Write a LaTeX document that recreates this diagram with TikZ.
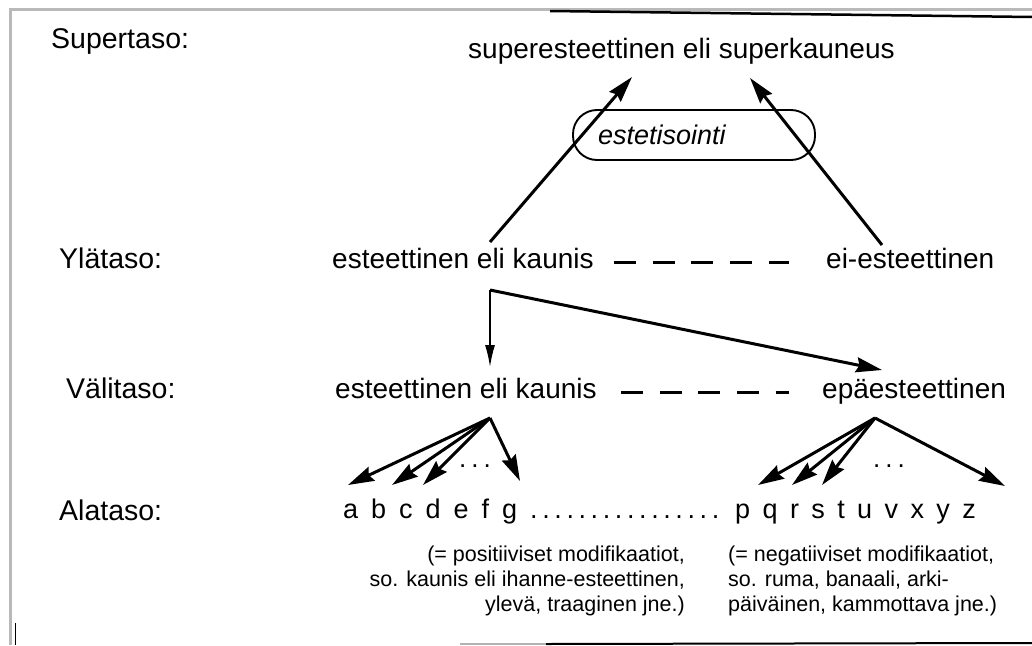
\documentclass[tikz,border=0pt]{standalone}
\usepackage{fontspec}
\setmainfont{Liberation Sans}
\usetikzlibrary{arrows.meta}
\begin{document}
\begin{tikzpicture}[x=1pt,y=-1pt,
  lbl/.style={anchor=base west, inner sep=0pt, font=\fontsize{28.5}{34}\selectfont},
  txt/.style={anchor=base west, inner sep=0pt, font=\fontsize{28}{34}\selectfont},
  ltr/.style={anchor=base west, inner sep=0pt, font=\fontsize{27}{32}\selectfont},
  paren/.style={inner sep=0pt, font=\fontsize{21.5}{25}\selectfont},
  dots/.style={inner sep=0pt, font=\fontsize{26}{30}\selectfont},
  bigarrow/.style={line width=3pt, -{Stealth[length=26pt,width=15pt,inset=3pt]}},
  thinarrow/.style={line width=1.5pt, -{Latex[length=22pt,width=10pt]}},
  dashline/.style={line width=3pt, dash pattern=on 22pt off 16.7pt},
  estbox/.style={draw, line width=1.9pt, rounded corners=24pt, minimum height=50pt,
    text width=192pt, inner xsep=25pt, align=left, font=\fontsize{27}{32}\selectfont\itshape}
]
\useasboundingbox (0,0) rectangle (1032,645);
\fill[white] (0,0) rectangle (1032,645);
% frame remnants
\draw[gray!55, line width=3pt] (10,645) -- (10,9) -- (1032,9);
\draw[line width=2.5pt] (550,11) -- (1032,17);
\draw[gray!60, line width=1.5pt] (460,644) -- (546,644);
\draw[line width=2pt] (546,644) -- (1032,643);
\draw[line width=1pt] (15,623) -- (15,645);

% level labels
\node[lbl] (st) at (51,48) {Supertaso:};
\node[lbl] (yl) at (59,268) {Ylätaso:};
\node[lbl] (vl) at (66,398) {Välitaso:};
\node[lbl] (al) at (59,520) {Alataso:};

% main texts
\node[txt] (sup) at (468,58) {superesteettinen eli superkauneus};
\node[estbox] (est) at (694,135) {estetisointi};
\node[txt] (yk) at (332,268) {esteettinen eli kaunis};
\node[txt] (ye) at (826,268) {ei-esteettinen};
\node[txt] (vk) at (335,398) {esteettinen eli kaunis};
\node[txt] (ve) at (822,398) {epäesteettinen};

% dashed links
\draw[dashline] ([shift={(20,-6)}]yk.base east) -- ([shift={(-37,-6)}]ye.base west);
\draw[dashline] ([shift={(24,-6)}]vk.base east) -- ([shift={(-33,-6)}]ve.base west);

% lowest level letters
\node[ltr] (ag) at (343,518) {a\hspace{13pt}b\hspace{13pt}c\hspace{13pt}d\hspace{13pt}e\hspace{13pt}f\hspace{13pt}g};
\node[ltr] (dl) at (530,518) {\foreach \i in {1,...,15}{.\hspace{4.6pt}}.};
\node[ltr] (pz) at (735,518) {p\hspace{12.4pt}q\hspace{12.4pt}r\hspace{12.4pt}s\hspace{12.4pt}t\hspace{12.4pt}u\hspace{12.4pt}v\hspace{12.4pt}x\hspace{12.4pt}y\hspace{12.4pt}z};
\node[dots] (d1) at (475,466) {.\hspace{5pt}.\hspace{5pt}.};
\node[dots] (d2) at (889,466) {.\hspace{5pt}.\hspace{5pt}.};

\node[paren, anchor=north east, align=right] (pos) at (685,546)
  {(= positiiviset modifikaatiot,\\so. kaunis eli ihanne-esteettinen,\\ylevä, traaginen jne.)};
\node[paren, anchor=north west, align=left] (neg) at (728,546)
  {(= negatiiviset modifikaatiot,\\so. ruma, banaali, arki-\\päiväinen, kammottava jne.)};

% connector points
\coordinate (ykA) at (490,242);
\coordinate (yeA) at (882,245);
\coordinate (supL) at (632,77);
\coordinate (supR) at (750,78);
\coordinate (ykB) at (490,290);
\coordinate (vkT) at (490,367);
\coordinate (veT) at (882,370);
\coordinate (vkB) at (490,418);
\coordinate (veB) at (875,418);
\coordinate (ta) at (348,485);
\coordinate (tb) at (392,485);
\coordinate (tc) at (423,485);
\coordinate (tg) at (520,481);
\coordinate (tp) at (758,485);
\coordinate (tq) at (792,485);
\coordinate (tr) at (822,485);
\coordinate (tz) at (1005,486);

\draw[bigarrow] (ykA) -- (supL);
\draw[bigarrow] (yeA) -- (supR);
\draw[thinarrow] (ykB) -- (vkT);
\draw[bigarrow] (ykB) -- (veT);
\foreach \t in {ta,tb,tc,tg} \draw[bigarrow] (vkB) -- (\t);
\foreach \t in {tp,tq,tr,tz} \draw[bigarrow] (veB) -- (\t);
\end{tikzpicture}
\end{document}
